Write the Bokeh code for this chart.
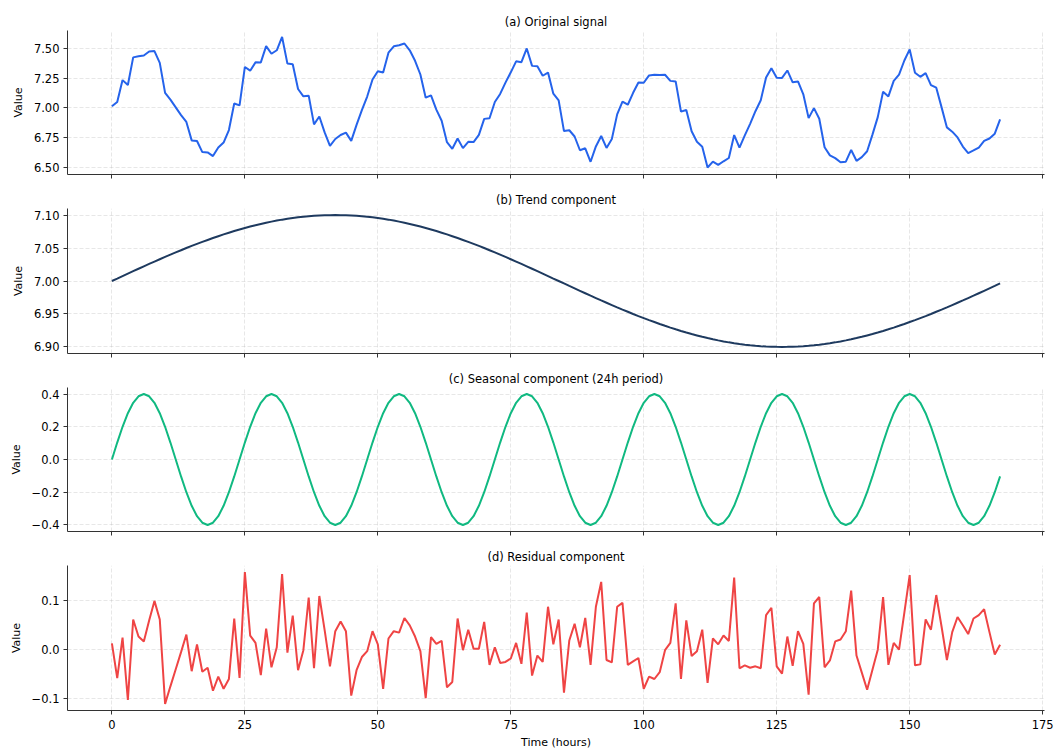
from bokeh.plotting import figure
from bokeh.layouts import column
from bokeh.models import Range1d, FixedTicker, ColumnDataSource
from bokeh.embed import file_html
from bokeh.resources import INLINE

# ---------------- data ----------------
hours = list(range(168))

trend = [
    7.0000, 7.0037, 7.0075, 7.0112, 7.0149, 7.0186, 7.0223, 7.0259, 7.0295, 7.0330,
    7.0365, 7.0400, 7.0434, 7.0467, 7.0500, 7.0532, 7.0563, 7.0594, 7.0623, 7.0652,
    7.0680, 7.0707, 7.0733, 7.0758, 7.0782, 7.0805, 7.0826, 7.0847, 7.0866, 7.0884,
    7.0901, 7.0917, 7.0931, 7.0944, 7.0956, 7.0966, 7.0975, 7.0983, 7.0989, 7.0994,
    7.0997, 7.0999, 7.1000,
    7.0999, 7.0997, 7.0994, 7.0989, 7.0983, 7.0975, 7.0966, 7.0956, 7.0944, 7.0931,
    7.0917, 7.0901, 7.0884, 7.0866, 7.0847, 7.0826, 7.0805, 7.0782, 7.0758, 7.0733,
    7.0707, 7.0680, 7.0652, 7.0623, 7.0594, 7.0563, 7.0532, 7.0500, 7.0467, 7.0434,
    7.0400, 7.0365, 7.0330, 7.0295, 7.0259, 7.0223, 7.0186, 7.0149, 7.0112, 7.0075,
    7.0037, 7.0000,
    6.9963, 6.9925, 6.9888, 6.9851, 6.9814, 6.9777, 6.9741, 6.9705, 6.9670, 6.9635,
    6.9600, 6.9566, 6.9533, 6.9500, 6.9468, 6.9437, 6.9406, 6.9377, 6.9348, 6.9320,
    6.9293, 6.9267, 6.9242, 6.9218, 6.9195, 6.9174, 6.9153, 6.9134, 6.9116, 6.9099,
    6.9083, 6.9069, 6.9056, 6.9044, 6.9034, 6.9025, 6.9017, 6.9011, 6.9006, 6.9003,
    6.9001, 6.9000,
    6.9001, 6.9003, 6.9006, 6.9011, 6.9017, 6.9025, 6.9034, 6.9044, 6.9056, 6.9069,
    6.9083, 6.9099, 6.9116, 6.9134, 6.9153, 6.9174, 6.9195, 6.9218, 6.9242, 6.9267,
    6.9293, 6.9320, 6.9348, 6.9377, 6.9406, 6.9437, 6.9468, 6.9500, 6.9533, 6.9566,
    6.9600, 6.9635, 6.9670, 6.9705, 6.9741, 6.9777, 6.9814, 6.9851, 6.9888, 6.9925,
    6.9963,
]

seasonal = [
    0.0, 0.1035, 0.2, 0.2828, 0.3464, 0.3864, 0.4, 0.3864, 0.3464, 0.2828, 0.2, 0.1035,
    0.0, -0.1035, -0.2, -0.2828, -0.3464, -0.3864, -0.4, -0.3864, -0.3464, -0.2828, -0.2, -0.1035,
    0.0, 0.1035, 0.2, 0.2828, 0.3464, 0.3864, 0.4, 0.3864, 0.3464, 0.2828, 0.2, 0.1035,
    0.0, -0.1035, -0.2, -0.2828, -0.3464, -0.3864, -0.4, -0.3864, -0.3464, -0.2828, -0.2, -0.1035,
    0.0, 0.1035, 0.2, 0.2828, 0.3464, 0.3864, 0.4, 0.3864, 0.3464, 0.2828, 0.2, 0.1035,
    0.0, -0.1035, -0.2, -0.2828, -0.3464, -0.3864, -0.4, -0.3864, -0.3464, -0.2828, -0.2, -0.1035,
    0.0, 0.1035, 0.2, 0.2828, 0.3464, 0.3864, 0.4, 0.3864, 0.3464, 0.2828, 0.2, 0.1035,
    0.0, -0.1035, -0.2, -0.2828, -0.3464, -0.3864, -0.4, -0.3864, -0.3464, -0.2828, -0.2, -0.1035,
    0.0, 0.1035, 0.2, 0.2828, 0.3464, 0.3864, 0.4, 0.3864, 0.3464, 0.2828, 0.2, 0.1035,
    0.0, -0.1035, -0.2, -0.2828, -0.3464, -0.3864, -0.4, -0.3864, -0.3464, -0.2828, -0.2, -0.1035,
    0.0, 0.1035, 0.2, 0.2828, 0.3464, 0.3864, 0.4, 0.3864, 0.3464, 0.2828, 0.2, 0.1035,
    0.0, -0.1035, -0.2, -0.2828, -0.3464, -0.3864, -0.4, -0.3864, -0.3464, -0.2828, -0.2, -0.1035,
    0.0, 0.1035, 0.2, 0.2828, 0.3464, 0.3864, 0.4, 0.3864, 0.3464, 0.2828, 0.2, 0.1035,
    0.0, -0.1035, -0.2, -0.2828, -0.3464, -0.3864, -0.4, -0.3864, -0.3464, -0.2828, -0.2, -0.1035,
]

residual = [
    0.013, -0.058, 0.025, -0.103, 0.062, 0.027, 0.017, 0.060, 0.100, 0.062,
    -0.111, -0.075, -0.040, -0.005, 0.031, -0.044, 0.011, -0.045, -0.037, -0.084,
    -0.055, -0.080, -0.060, 0.064, -0.058, 0.159, 0.029, 0.014, -0.052, 0.043,
    -0.036, 0.005, 0.155, -0.006, 0.070, -0.042, -0.001, 0.107, -0.038, 0.110,
    0.040, -0.034, 0.038, 0.058, 0.038, -0.094, -0.042, -0.015, -0.003, 0.038,
    0.011, -0.080, 0.023, 0.038, 0.035, 0.065, 0.050, 0.027, -0.003, -0.099,
    0.026, 0.012, 0.018, -0.077, -0.066, 0.064, -0.001, 0.041, 0.002, 0.002,
    0.057, -0.031, 0.005, -0.027, -0.025, -0.018, 0.014, -0.029, 0.076, -0.053,
    -0.012, -0.025, 0.088, 0.011, 0.062, -0.088, 0.019, 0.053, 0.005, 0.065,
    -0.031, 0.088, 0.139, -0.021, -0.026, 0.088, 0.096, -0.031, -0.024, -0.017,
    -0.080, -0.055, -0.060, -0.046, -0.001, 0.014, 0.095, -0.060, 0.060, -0.013,
    -0.003, 0.041, -0.068, 0.023, 0.011, 0.029, 0.018, 0.148, -0.038, -0.032,
    -0.037, -0.034, -0.038, 0.071, 0.086, -0.034, -0.049, 0.027, -0.033, 0.038,
    0.012, -0.092, 0.095, 0.108, -0.036, -0.022, 0.017, 0.021, 0.038, 0.121,
    -0.012, -0.047, -0.082, -0.041, 0.000, 0.108, -0.031, 0.014, 0.000, 0.076,
    0.153, -0.032, -0.030, 0.062, 0.041, 0.112, 0.047, -0.021, 0.036, 0.067,
    0.050, 0.032, 0.064, 0.071, 0.083, 0.036, -0.010, 0.010,
]

# additive decomposition: original = trend + seasonal + residual
original = [round(t + s + r, 4) for t, s, r in zip(trend, seasonal, residual)]

panel_titles = ["(a) Original signal", "(b) Trend component",
                "(c) Seasonal component (24h period)", "(d) Residual component"]
y_axis_label = "Value"
x_axis_label = "Time (hours)"

x_tick_values = [0, 25, 50, 75, 100, 125, 150, 175]
x_tick_labels = ["0", "25", "50", "75", "100", "125", "150", "175"]

y_ticks_a = [6.5, 6.75, 7.0, 7.25, 7.5]
y_labels_a = ["6.50", "6.75", "7.00", "7.25", "7.50"]
y_ticks_b = [6.9, 6.95, 7.0, 7.05, 7.1]
y_labels_b = ["6.90", "6.95", "7.00", "7.05", "7.10"]
y_ticks_c = [-0.4, -0.2, 0.0, 0.2, 0.4]
y_labels_c = ["\u22120.4", "\u22120.2", "0.0", "0.2", "0.4"]
y_ticks_d = [-0.1, 0.0, 0.1]
y_labels_d = ["\u22120.1", "0.0", "0.1"]

# ---------------- styling ----------------
FONT = "DejaVu Sans"
SPINE = "#333333"
W = 1055


def make_panel(title, ys, color, yr, yticks, ylabels, height, top, bottom, show_x):
    p = figure(width=W, height=height,
               x_range=Range1d(-8.35, 175.35), y_range=Range1d(*yr),
               output_backend="svg", toolbar_location=None,
               min_border_left=67, min_border_right=11,
               min_border_top=top, min_border_bottom=bottom)
    src = ColumnDataSource(dict(x=hours, y=ys))
    p.line("x", "y", source=src, line_color=color, line_width=2)

    p.title.text = title
    p.title.text_font = FONT
    p.title.text_font_size = "11.5px"
    p.title.text_font_style = "normal"
    p.title.text_color = "black"
    p.title.align = "center"
    p.title.standoff = 4

    p.outline_line_color = None
    p.background_fill_color = "white"
    p.border_fill_color = "white"

    for g in (p.xgrid, p.ygrid):
        g.grid_line_color = "#b0b0b0"
        g.grid_line_alpha = 0.3
        g.grid_line_dash = "4 2"
        g.grid_line_width = 1

    xa = p.xaxis[0]
    xa.ticker = FixedTicker(ticks=x_tick_values)
    xa.major_label_overrides = dict(zip(x_tick_values, x_tick_labels))
    ya = p.yaxis[0]
    ya.ticker = FixedTicker(ticks=yticks)
    ya.major_label_overrides = dict(zip(yticks, ylabels))

    for ax in (xa, ya):
        ax.axis_line_color = SPINE
        ax.axis_line_width = 1
        ax.major_tick_line_color = SPINE
        ax.major_tick_out = 4
        ax.major_tick_in = 0
        ax.minor_tick_line_color = None
        ax.major_label_text_font = FONT
        ax.major_label_text_font_size = "11.5px"
        ax.major_label_text_color = "black"
        ax.axis_label_text_font = FONT
        ax.axis_label_text_font_size = "11px"
        ax.axis_label_text_font_style = "normal"
        ax.axis_label_text_color = "black"

    ya.axis_label = y_axis_label
    ya.major_label_standoff = 4
    ya.axis_label_standoff = 6

    if show_x:
        xa.axis_label = x_axis_label
        xa.major_label_standoff = 5
        xa.axis_label_standoff = 4
    else:
        # shared x axis: tick marks only, no tick labels
        xa.major_label_text_color = None
        xa.major_label_text_font_size = "1px"
        xa.major_label_standoff = 0
    return p


pa = make_panel(panel_titles[0], original, "#2563eb", (6.440, 7.649),
                y_ticks_a, y_labels_a, 186, 30, 12, False)
pb = make_panel(panel_titles[1], trend, "#1e3a5f", (6.89, 7.11),
                y_ticks_b, y_labels_b, 179, 22, 12, False)
pc = make_panel(panel_titles[2], seasonal, "#10b981", (-0.44, 0.44),
                y_ticks_c, y_labels_c, 178, 22, 12, False)
pd_ = make_panel(panel_titles[3], residual, "#ef4444", (-0.1245, 0.1725),
                 y_ticks_d, y_labels_d, 208, 22, 41, True)

layout = column(pa, pb, pc, pd_, spacing=0)

open("out.html", "w").write(file_html(layout, INLINE))
